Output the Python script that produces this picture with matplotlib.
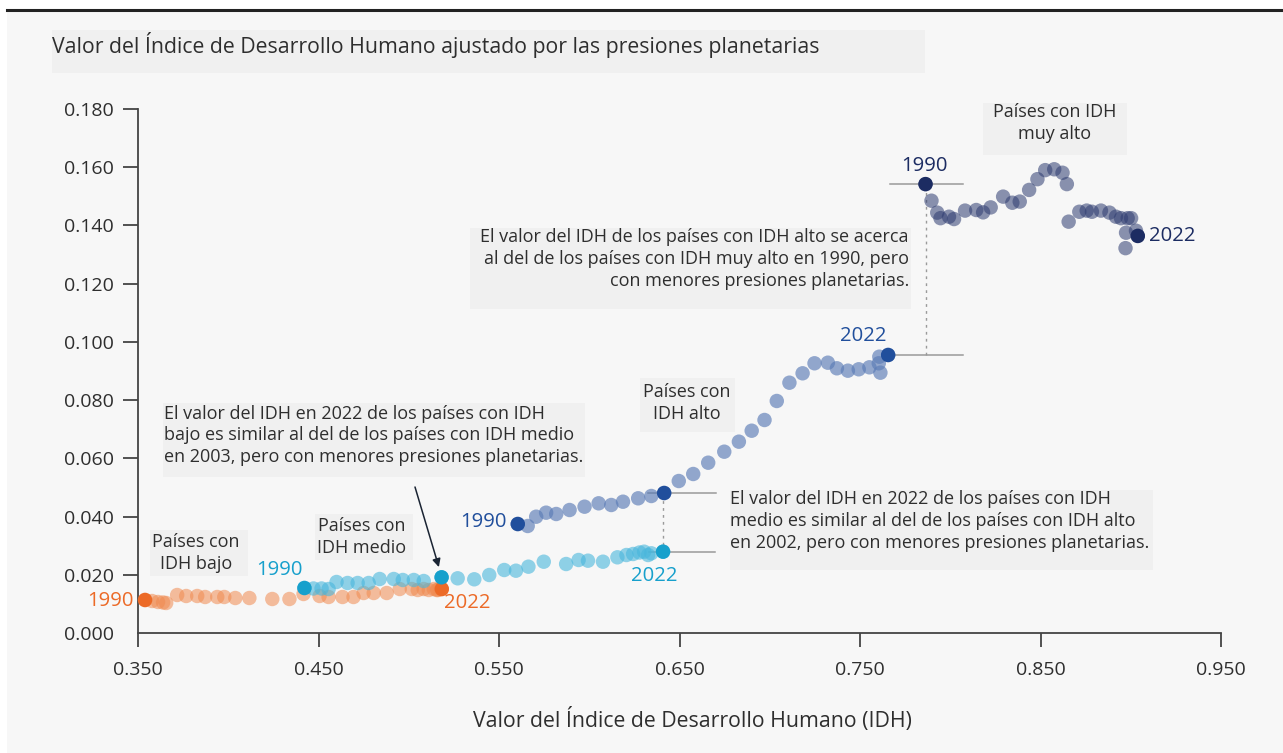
import matplotlib
matplotlib.use("Agg")
import matplotlib.pyplot as plt
from matplotlib.patches import Rectangle
from matplotlib.lines import Line2D

plt.rcParams['font.family'] = ['Open Sans', 'DejaVu Sans']

W, H = 1283, 753

years = list(range(1990, 2023))

low_hdi = [0.3539, 0.3578, 0.3611, 0.3639, 0.3656, 0.3717, 0.3767, 0.3828, 0.3872, 0.3939,
           0.3978, 0.4039, 0.4117, 0.4244, 0.4339, 0.4417, 0.4506, 0.4556, 0.4633, 0.4694,
           0.4750, 0.4806, 0.4878, 0.4950, 0.5017, 0.5050, 0.5083, 0.5111, 0.5139, 0.5156,
           0.5161, 0.5172, 0.5183]
low_phdi = [0.01134, 0.01099, 0.01065, 0.01048, 0.01031, 0.01305, 0.01271, 0.01271, 0.01237, 0.01237,
            0.01237, 0.01202, 0.01202, 0.01168, 0.01168, 0.01340, 0.01271, 0.01237, 0.01237, 0.01237,
            0.01374, 0.01374, 0.01374, 0.01511, 0.01511, 0.01477, 0.01511, 0.01477, 0.01511, 0.01477,
            0.01477, 0.01511, 0.01511]

med_hdi = [0.4422, 0.4472, 0.4517, 0.4556, 0.4600, 0.4661, 0.4717, 0.4778, 0.4839, 0.4917,
           0.4967, 0.5028, 0.5083, 0.5182, 0.5271, 0.5363, 0.5446, 0.5529, 0.5594, 0.5663,
           0.5748, 0.5872, 0.5941, 0.5993, 0.6076, 0.6156, 0.6206, 0.6243, 0.6278, 0.6304,
           0.6326, 0.6344, 0.6409]
med_phdi = [0.01546, 0.01529, 0.01529, 0.01511, 0.01752, 0.01718, 0.01718, 0.01718, 0.01855, 0.01855,
            0.01821, 0.01821, 0.01786, 0.01913, 0.01879, 0.01845, 0.01992, 0.02164, 0.02140, 0.02278,
            0.02449, 0.02370, 0.02508, 0.02484, 0.02449, 0.02600, 0.02679, 0.02714, 0.02765, 0.02793,
            0.02679, 0.02738, 0.02793]

high_hdi = [0.5604, 0.5659, 0.5706, 0.5761, 0.5817, 0.5891, 0.5974, 0.6052, 0.6122, 0.6187,
            0.6271, 0.6344, 0.6415, 0.6496, 0.6576, 0.6659, 0.6748, 0.6829, 0.6900, 0.6971,
            0.7039, 0.7109, 0.7182, 0.7248, 0.7322, 0.7372, 0.7433, 0.7493, 0.7552, 0.7604,
            0.7613, 0.7607, 0.7656]
high_phdi = [0.03744, 0.03676, 0.03995, 0.04133, 0.04088, 0.04225, 0.04339, 0.04455, 0.04397, 0.04510,
             0.04627, 0.04706, 0.04809, 0.05221, 0.05462, 0.05850, 0.06228, 0.06572, 0.06949, 0.07317,
             0.07970, 0.08598, 0.08921, 0.09265, 0.09285, 0.09093, 0.09011, 0.09059, 0.09127, 0.09265,
             0.08942, 0.09492, 0.09550]

vhigh_hdi = [0.7863, 0.7896, 0.7928, 0.7946, 0.7993, 0.8021, 0.8082, 0.8144, 0.8182, 0.8224,
             0.8293, 0.8344, 0.8385, 0.8437, 0.8483, 0.8526, 0.8576, 0.8622, 0.8646, 0.8656,
             0.8715, 0.8756, 0.8785, 0.8835, 0.8882, 0.8918, 0.8946, 0.8983, 0.9002, 0.9029,
             0.8971, 0.8974, 0.9039]
vhigh_phdi = [0.1542, 0.1485, 0.1444, 0.1425, 0.1430, 0.1422, 0.1451, 0.1453, 0.1445, 0.1462,
              0.1499, 0.1478, 0.1482, 0.1522, 0.1559, 0.1590, 0.1593, 0.1581, 0.1542, 0.1413,
              0.1447, 0.1451, 0.1447, 0.1451, 0.1444, 0.1430, 0.1425, 0.1425, 0.1425, 0.1382,
              0.1322, 0.1375, 0.1364]

x_ticks = [0.35, 0.45, 0.55, 0.65, 0.75, 0.85, 0.95]
y_ticks = [0.00, 0.02, 0.04, 0.06, 0.08, 0.10, 0.12, 0.14, 0.16, 0.18]

title = "Valor del Índice de Desarrollo Humano ajustado por las presiones planetarias"
xlabel = "Valor del Índice de Desarrollo Humano (IDH)"

TXT = '#2e2e2e'
BOX = '#f0f0f0'
FS_T = 15.3     # title / axis label
FS_A = 13.0     # annotations
FS_Y = 14.6     # year labels
FS_K = 14.0     # tick labels

fig = plt.figure(figsize=(W / 100, H / 100), dpi=100)
fig.patch.set_facecolor('white')


def fx(px):
    return px / W


def fy(py):
    return 1 - py / H


# background panel and top rule
fig.patches.append(Rectangle((fx(7), 0), 1 - fx(7), fy(11), transform=fig.transFigure,
                             facecolor='#f7f7f7', edgecolor='none', zorder=-10))
fig.add_artist(Line2D([fx(7), 1], [fy(10), fy(10)], transform=fig.transFigure,
                      color='#222222', lw=2.2))

ax = fig.add_axes([fx(138), fy(633), fx(1221) - fx(138), fy(109) - fy(633)])
ax.set_facecolor('none')
ax.set_xlim(0.35, 0.95)
ax.set_ylim(0.0, 0.18)
for s in ['top', 'right']:
    ax.spines[s].set_visible(False)
for s in ['left', 'bottom']:
    ax.spines[s].set_color('#444444')
    ax.spines[s].set_linewidth(1.3)
ax.set_xticks(x_ticks)
ax.set_yticks(y_ticks)
ax.set_xticklabels([f"{v:.3f}" for v in x_ticks])
ax.set_yticklabels([f"{v:.3f}" for v in y_ticks])
ax.tick_params(axis='x', direction='out', length=10, width=1.3, color='#444444',
               pad=10, labelsize=FS_K, labelcolor=TXT)
ax.tick_params(axis='y', direction='out', length=10.5, width=1.3, color='#444444',
               pad=7, labelsize=FS_K, labelcolor=TXT)
ax.yaxis.get_major_ticks()[0].tick1line.set_visible(False)

S = 108
series = [
    (low_hdi, low_phdi, '#f08a50', 0.55),
    (med_hdi, med_phdi, '#48b6dc', 0.6),
    (high_hdi, high_phdi, '#5a7bb6', 0.65),
    (vhigh_hdi, vhigh_phdi, '#2e3c70', 0.55),
]
for xs, ys, c, a in series:
    ax.scatter(xs, ys, s=S, color=c, alpha=a, edgecolors='none', zorder=3, clip_on=False)

# highlighted points
hl = [
    (low_hdi[0], low_phdi[0], '#ec6a27'), (low_hdi[-1], low_phdi[-1], '#ec6a27'),
    (med_hdi[0], med_phdi[0], '#17a0cc'), (med_hdi[-1], med_phdi[-1], '#17a0cc'),
    (med_hdi[13], med_phdi[13], '#17a0cc'),
    (high_hdi[0], high_phdi[0], '#214f9c'), (high_hdi[-1], high_phdi[-1], '#214f9c'),
    (high_hdi[12], high_phdi[12], '#214f9c'),
    (vhigh_hdi[0], vhigh_phdi[0], '#1c2c62'), (vhigh_hdi[-1], vhigh_phdi[-1], '#1c2c62'),
]
for x, y, c in hl:
    ax.scatter([x], [y], s=S, color=c, edgecolors='none', zorder=5, clip_on=False)

# reference lines
G = '#9a9a9a'
ax.plot([high_hdi[12] - 0.009, high_hdi[12] + 0.0285], [high_phdi[12]] * 2, color=G, lw=1.1, zorder=2)
ax.plot([med_hdi[-1] - 0.008, med_hdi[-1] + 0.0285], [med_phdi[-1]] * 2, color=G, lw=1.1, zorder=2)
ax.plot([med_hdi[-1]] * 2, [med_phdi[-1], high_phdi[12]], color=G, lw=1.0, ls=(0, (2, 3)), zorder=2)
ax.plot([vhigh_hdi[0] - 0.0195, vhigh_hdi[0] + 0.0205], [vhigh_phdi[0]] * 2, color=G, lw=1.1, zorder=2)
ax.plot([high_hdi[-1], high_hdi[-1] + 0.0415], [high_phdi[-1]] * 2, color=G, lw=1.1, zorder=2)
ax.plot([vhigh_hdi[0]] * 2, [high_phdi[-1], vhigh_phdi[0]], color=G, lw=1.0, ls=(0, (2, 3)), zorder=2)


# year labels
def ylab(px, py, s, c, ha='center'):
    fig.text(fx(px), fy(py), s, color=c, fontsize=FS_Y, ha=ha, va='center')


ylab(134, 601, '1990', '#ec6a27', ha='right')
ylab(467, 603, '2022', '#ec6a27')
ylab(279, 570, '1990', '#17a0cc')
ylab(654, 576, '2022', '#17a0cc')
ylab(507, 522, '1990', '#214f9c', ha='right')
ylab(863, 336, '2022', '#214f9c')
ylab(924, 166, '1990', '#1c2c62')
ylab(1172, 236, '2022', '#1c2c62')


def box(x0, y0, x1, y1):
    fig.patches.append(Rectangle((fx(x0), fy(y1)), fx(x1) - fx(x0), fy(y0) - fy(y1),
                                 transform=fig.transFigure, facecolor=BOX, edgecolor='none', zorder=-5))


# title
box(52, 30, 925, 73)
fig.text(fx(52), fy(45), title, fontsize=FS_T, color=TXT, ha='left', va='center')

# x label
fig.text(fx(692), fy(720), xlabel, fontsize=FS_T, color=TXT, ha='center', va='center')

LS = 1.25
# category labels
box(983, 103, 1127, 155)
fig.text(fx(1055), fy(123), "Países con IDH\nmuy alto", fontsize=FS_A, color=TXT, ha='center', va='center', linespacing=LS)
box(640, 378, 735, 432)
fig.text(fx(687), fy(403), "Países con\nIDH alto", fontsize=FS_A, color=TXT, ha='center', va='center', linespacing=LS)
box(315, 514, 413, 560)
fig.text(fx(362), fy(537), "Países con\nIDH medio", fontsize=FS_A, color=TXT, ha='center', va='center', linespacing=LS)
box(150, 530, 248, 576)
fig.text(fx(196), fy(553), "Países con\nIDH bajo", fontsize=FS_A, color=TXT, ha='center', va='center', linespacing=LS)

# annotations
box(470, 228, 911, 309)
fig.text(fx(909), fy(259), "El valor del IDH de los países con IDH alto se acerca\n"
         "al del de los países con IDH muy alto en 1990, pero\n"
         "con menores presiones planetarias.",
         fontsize=FS_A, color=TXT, ha='right', va='center', linespacing=LS, multialignment='right')

box(163, 403, 585, 477)
fig.text(fx(164), fy(435), "El valor del IDH en 2022 de los países con IDH\n"
         "bajo es similar al del de los países con IDH medio\n"
         "en 2003, pero con menores presiones planetarias.",
         fontsize=FS_A, color=TXT, ha='left', va='center', linespacing=LS)

box(730, 490, 1153, 570)
fig.text(fx(730), fy(521), "El valor del IDH en 2022 de los países con IDH\n"
         "medio es similar al del de los países con IDH alto\n"
         "en 2002, pero con menores presiones planetarias.",
         fontsize=FS_A, color=TXT, ha='left', va='center', linespacing=LS)

# arrow to medium 2003 point
ax.annotate('', xy=(med_hdi[13] - 0.0015, med_phdi[13] + 0.0035),
            xytext=(fx(415), fy(487)), textcoords='figure fraction',
            arrowprops=dict(arrowstyle='-|>', color='#1a2433', lw=1.1, mutation_scale=12,
                            shrinkA=0, shrinkB=0), zorder=6)

fig.savefig('out.png', dpi=100, facecolor=fig.get_facecolor())
